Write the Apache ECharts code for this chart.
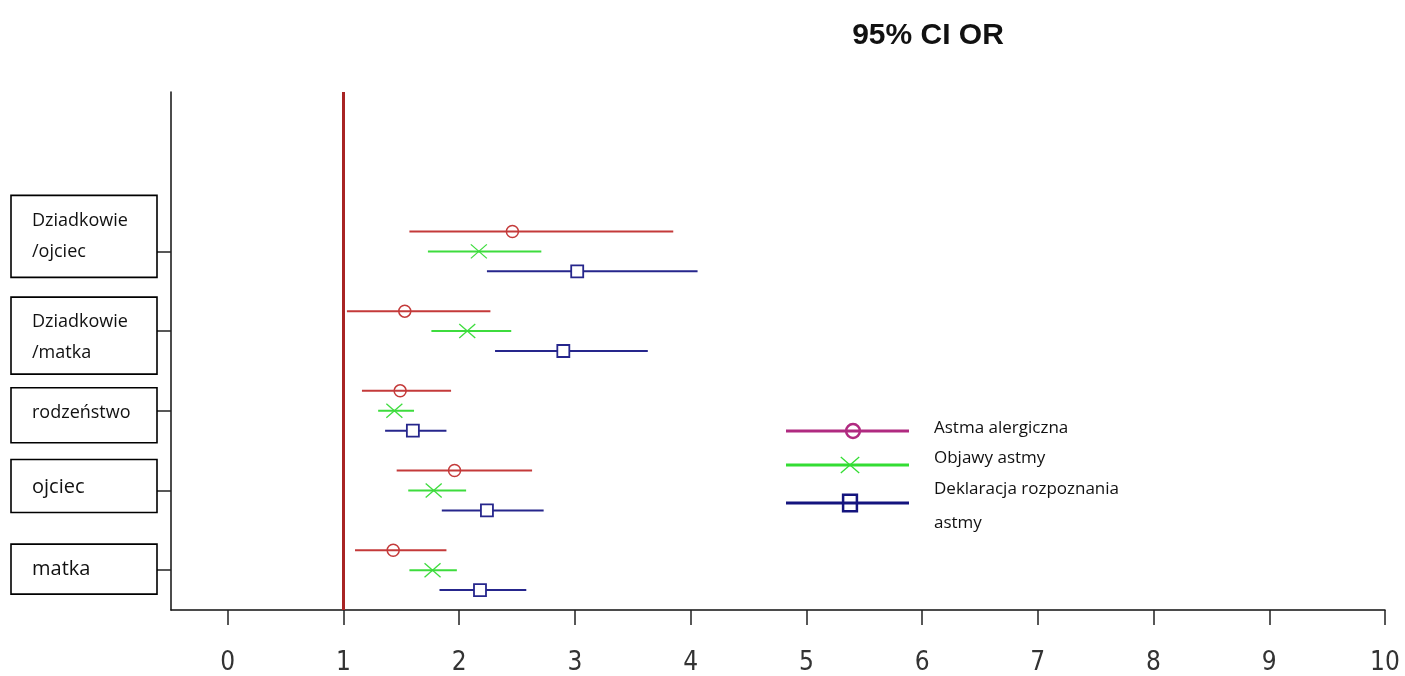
<!DOCTYPE html>
<html>
<head>
<meta charset="utf-8">
<title>95% CI OR</title>
<script src="https://cdn.jsdelivr.net/npm/echarts@6/dist/echarts.min.js"></script>
<style>
  html, body { margin: 0; padding: 0; background: #ffffff; }
  #chart { width: 1405px; height: 676px; }
</style>
</head>
<body>
<div id="chart"></div>
<script>
// Categories, top to bottom
const CATEGORIES = ['Dziadkowie\n/ojciec', 'Dziadkowie\n/matka', 'rodzeństwo', 'ojciec', 'matka'];
const SERIES_NAMES = ['Astma alergiczna', 'Objawy astmy', 'Deklaracja rozpoznania\nastmy'];
const X_TICKS = [0, 1, 2, 3, 4, 5, 6, 7, 8, 9, 10];
const REFERENCE_OR = 1;

// Odds ratio with 95% confidence interval, one value per category
const ASTMA_LOW  = [1.57, 1.03, 1.16, 1.46, 1.10];
const ASTMA_OR   = [2.46, 1.53, 1.49, 1.96, 1.43];
const ASTMA_HIGH = [3.85, 2.27, 1.93, 2.63, 1.89];

const OBJAWY_LOW  = [1.73, 1.76, 1.30, 1.56, 1.57];
const OBJAWY_OR   = [2.17, 2.07, 1.44, 1.78, 1.77];
const OBJAWY_HIGH = [2.71, 2.45, 1.61, 2.06, 1.98];

const DEKL_LOW  = [2.24, 2.31, 1.36, 1.85, 1.83];
const DEKL_OR   = [3.02, 2.90, 1.60, 2.24, 2.18];
const DEKL_HIGH = [4.06, 3.63, 1.89, 2.73, 2.58];

// ---- styling ----
const TEXT_FONT = '"Open Sans", "Noto Sans", sans-serif';
const AXIS_FONT = '"Liberation Sans Narrow", "DejaVu Sans Condensed", "Liberation Sans", sans-serif';
const COLORS = ['#c43a3a', '#3ddc3d', '#26268c'];
const LEGEND_COLORS = ['#b02a80', '#33dd33', '#14147e'];
const ROW_OFFSET = [-0.25, 0, 0.25];
const MARKERS = ['circle', 'cross', 'square'];

// category label boxes, relative to the tick position (px)
const BOX_TOP = [-56, -34, -23, -31, -26];
const BOX_H = [82, 77, 55, 53, 50];
const BOX_FONT = [18, 18, 18, 20, 20];
const BOX_TEXT_Y = [25, 25, 25, 28, 25];

function markerShape(kind, cx, cy, color, big) {
  const s = big ? 1.15 : 1;
  if (kind === 'circle') {
    return { type: 'circle', shape: { cx: cx, cy: cy, r: 6 * s },
      style: { fill: 'none', stroke: color, lineWidth: big ? 2.5 : 1.5 } };
  }
  if (kind === 'cross') {
    const w = 8 * s, h = 7 * s;
    return { type: 'group', children: [
      { type: 'line', shape: { x1: cx - w, y1: cy - h, x2: cx + w, y2: cy + h }, style: { stroke: color, lineWidth: 1.3 } },
      { type: 'line', shape: { x1: cx - w, y1: cy + h, x2: cx + w, y2: cy - h }, style: { stroke: color, lineWidth: 1.3 } }
    ] };
  }
  const half = 6 * s;
  return { type: 'rect', shape: { x: cx - half, y: cy - half * (big ? 1.2 : 1), width: half * 2, height: half * 2 * (big ? 1.2 : 1) },
    style: { fill: big ? 'none' : '#ffffff', stroke: color, lineWidth: big ? 2.5 : 1.8 } };
}

function ciRenderer(k) {
  return function (params, api) {
    const yv = api.value(0) + ROW_OFFSET[k];
    const a = api.coord([api.value(1), yv]);
    const p = api.coord([api.value(2), yv]);
    const b = api.coord([api.value(3), yv]);
    return { type: 'group', children: [
      { type: 'line', shape: { x1: a[0], y1: a[1], x2: b[0], y2: b[1] }, style: { stroke: COLORS[k], lineWidth: 2 } },
      markerShape(MARKERS[k], p[0], p[1], COLORS[k], false)
    ] };
  };
}

function ciData(low, or, high) {
  return CATEGORIES.map(function (c, i) { return [i, low[i], or[i], high[i]]; });
}

function labelRenderer(params, api) {
  const i = api.value(1);
  const y = api.coord([0, i])[1];
  const top = y + BOX_TOP[i];
  const lines = CATEGORIES[i].split('\n');
  const children = [{ type: 'rect', shape: { x: 11, y: top, width: 146, height: BOX_H[i] },
    style: { fill: '#ffffff', stroke: '#000000', lineWidth: 1.6 } }];
  lines.forEach(function (line, k) {
    children.push({ type: 'text', x: 32, y: top + BOX_TEXT_Y[i] + 31 * k,
      style: { text: line, fill: '#111111', font: BOX_FONT[i] + 'px ' + TEXT_FONT,
        align: 'left', verticalAlign: 'middle' } });
  });
  return { type: 'group', children: children };
}

const chart = echarts.init(document.getElementById('chart'), null, { renderer: 'canvas' });

const ciSeries = [
  [ASTMA_LOW, ASTMA_OR, ASTMA_HIGH],
  [OBJAWY_LOW, OBJAWY_OR, OBJAWY_HIGH],
  [DEKL_LOW, DEKL_OR, DEKL_HIGH]
].map(function (arr, k) {
  const s = {
    type: 'custom',
    name: SERIES_NAMES[k],
    renderItem: ciRenderer(k),
    data: ciData(arr[0], arr[1], arr[2]),
    encode: { x: [1, 2, 3], y: 0 },
    silent: true,
    z: 3
  };
  if (k === 0) {
    s.markLine = {
      silent: true,
      symbol: ['none', 'none'],
      label: { show: false },
      lineStyle: { color: '#a82424', width: 3, type: 'solid' },
      data: [{ xAxis: REFERENCE_OR }]
    };
  }
  return s;
});

// legend drawn as lines with the series markers
const LEGEND_Y = [431, 465, 503];
const LEGEND_MARK_X = [853, 850, 850];
const LEGEND_TEXT_Y = [411, 441, 472];
const legendGraphics = [];
SERIES_NAMES.forEach(function (name, k) {
  legendGraphics.push({ type: 'line', shape: { x1: 786, y1: LEGEND_Y[k], x2: 909, y2: LEGEND_Y[k] },
    style: { stroke: LEGEND_COLORS[k], lineWidth: 3 } });
  legendGraphics.push(markerShape(MARKERS[k], LEGEND_MARK_X[k], LEGEND_Y[k], LEGEND_COLORS[k], true));
  legendGraphics.push({ type: 'text', x: 934, y: LEGEND_TEXT_Y[k],
    style: { text: name, fill: '#111111', font: '17px ' + TEXT_FONT, lineHeight: 34,
      align: 'left', verticalAlign: 'top' } });
});

chart.setOption({
  animation: false,
  backgroundColor: '#ffffff',
  title: {
    text: '95% CI OR',
    left: 923,
    top: 16,
    textAlign: 'center',
    textStyle: { fontFamily: '"Liberation Sans", Arial, sans-serif', fontWeight: 'bold', fontSize: 30, color: '#111111' }
  },
  grid: { left: 171, right: 20, top: 92, bottom: 63, containLabel: false },
  xAxis: {
    type: 'value',
    min: -0.49,
    max: 10,
    axisLine: { show: true, onZero: false, lineStyle: { color: '#111111', width: 1.5 } },
    axisTick: { show: true, customValues: X_TICKS, length: 15, lineStyle: { color: '#222222', width: 1.5 } },
    axisLabel: { customValues: X_TICKS, margin: 40, color: '#333333', fontSize: 26, lineHeight: 26,
      fontFamily: AXIS_FONT },
    splitLine: { show: false }
  },
  yAxis: {
    type: 'value',
    inverse: true,
    min: -2,
    max: 4.5,
    axisLine: { show: true, onZero: false, lineStyle: { color: '#111111', width: 1.5 } },
    axisTick: { show: true, customValues: [0, 1, 2, 3, 4], length: 15, lineStyle: { color: '#222222', width: 1.5 } },
    axisLabel: { show: false },
    splitLine: { show: false }
  },
  graphic: legendGraphics,
  series: ciSeries.concat([{
    type: 'custom',
    name: 'labels',
    renderItem: labelRenderer,
    data: CATEGORIES.map(function (c, i) { return [0, i]; }),
    encode: { x: 0, y: 1 },
    clip: false,
    silent: true,
    z: 1
  }])
});
</script>
</body>
</html>
